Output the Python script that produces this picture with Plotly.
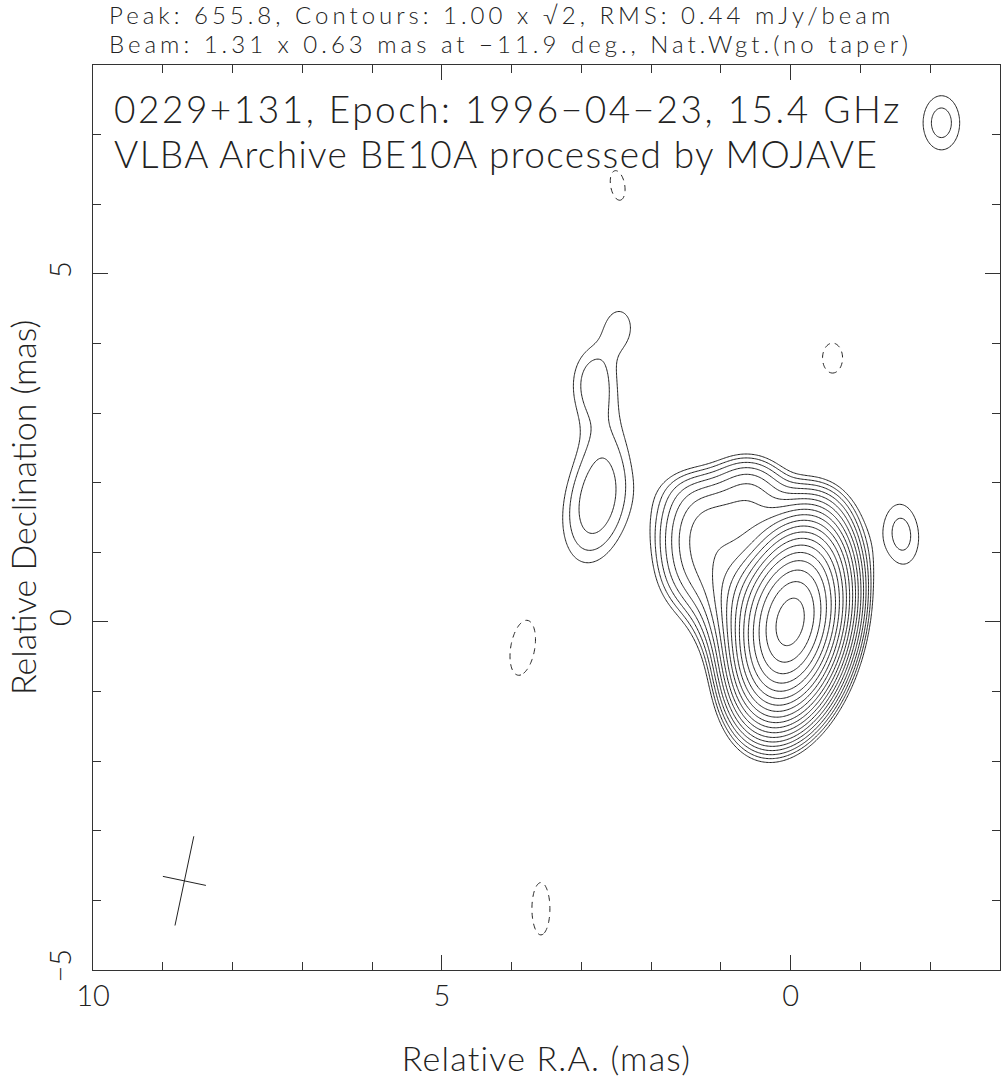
import numpy as np
import plotly.graph_objects as go

# Elliptical Gaussian components (restored with beam) describing the image
# RA offset (mas, east positive), Dec offset (mas), peak (mJy/beam), FWHM major/minor (mas), PA (deg)
comp_ra   = [0.00, 0.45, 0.55, 1.25, 1.30, 0.60, 1.40, -0.45,
             2.78, 2.70, 2.85, 2.45,
             -1.59, -2.16,
             3.84, 3.58, -0.60, 2.48]
comp_dec  = [0.00, 0.20, 1.50, 1.40, 0.80, 2.00, 1.85, 1.65,
             1.70, 2.85, 3.50, 4.25,
             1.26, 7.17,
             -0.37, -4.12, 3.79, 6.27]
comp_peak = [600.0, 30.0, 6.5, 6.0, 5.0, 2.5, 0.8, 0.8,
             2.5, 0.75, 1.4, 1.2,
             1.62, 1.64,
             -1.5, -1.4, -1.2, -1.15]
comp_maj  = [1.35, 1.20, 0.90, 0.90, 0.95, 0.70, 0.90, 0.80,
             1.50, 1.40, 1.00, 0.70,
             1.03, 0.92,
             1.05, 1.08, 0.84, 0.96]
comp_min  = [0.74, 0.90, 0.85, 0.85, 0.80, 0.60, 0.60, 0.60,
             0.80, 0.68, 0.62, 0.50,
             0.58, 0.62,
             0.45, 0.37, 0.56, 0.45]
comp_pa   = [-12.0, 20.0, 80.0, 0.0, 0.0, 80.0, 80.0, 60.0,
             -12.0, -5.0, -5.0, 0.0,
             5.0, 0.0,
             -10.0, 0.0, 0.0, 10.0]

map_peak = 655.8          # mJy/beam
base_level = 1.00         # mJy/beam, lowest contour
level_step = np.sqrt(2)   # contour ratio
beam_maj, beam_min, beam_pa = 1.31, 0.63, -11.9
beam_ra, beam_dec = 8.69, -3.72

x_major_ticks = [10, 5, 0]
y_major_ticks = [-5, 0, 5]

header_1 = "Peak: 655.8, Contours: 1.00 x \u221a2, RMS: 0.44 mJy/beam"
header_2 = "Beam: 1.31 x 0.63 mas at \u221211.9 deg., Nat.Wgt.(no taper)"
label_1 = "0229+131, Epoch: 1996\u221204\u221223, 15.4 GHz"
label_2 = "VLBA Archive BE10A processed by MOJAVE"
x_title = "Relative R.A. (mas)"
y_title = "Relative Declination (mas)"

# ---------------- build image ----------------
ra = np.linspace(-3.0, 10.0, 651)
dec = np.linspace(-5.0, 8.0, 651)
RA, DEC = np.meshgrid(ra, dec)
img = np.zeros_like(RA)
k = 4 * np.log(2)
for r0, d0, p, a, b, pa in zip(comp_ra, comp_dec, comp_peak, comp_maj, comp_min, comp_pa):
    t = np.deg2rad(pa)
    dx, dy = RA - r0, DEC - d0
    u = dx * np.sin(t) + dy * np.cos(t)
    v = dx * np.cos(t) - dy * np.sin(t)
    img += p * np.exp(-k * (u ** 2 / a ** 2 + v ** 2 / b ** 2))

n_pos = int(np.floor(np.log(map_peak / base_level) / np.log(level_step))) + 1
zlog = np.where(img > 0, np.log(np.clip(img, 1e-9, None) / base_level) / np.log(level_step), -30.0)

INK = "#222"
FONT = "Lato"
W = 300


def spaced(s, px):
    return '<span style="letter-spacing:%spx">%s</span>' % (px, s)


fig = go.Figure()
fig.add_trace(go.Contour(
    x=ra, y=dec, z=zlog.astype(np.float32),
    contours=dict(start=0, end=n_pos - 1, size=1, coloring="lines"),
    line=dict(color=INK, width=1, smoothing=1),
    colorscale=[[0, INK], [1, INK]], showscale=False, hoverinfo="skip"))
fig.add_trace(go.Contour(
    x=ra, y=dec, z=img.astype(np.float32),
    contours=dict(start=-base_level, end=-base_level, size=1, coloring="lines"),
    line=dict(color=INK, width=1, dash="6px,5px", smoothing=1),
    colorscale=[[0, INK], [1, INK]], showscale=False, hoverinfo="skip"))

# beam cross
t = np.deg2rad(beam_pa)
bx = [beam_ra + 0.5 * beam_maj * np.sin(t), beam_ra - 0.5 * beam_maj * np.sin(t), None,
      beam_ra + 0.5 * beam_min * np.cos(t), beam_ra - 0.5 * beam_min * np.cos(t)]
by = [beam_dec + 0.5 * beam_maj * np.cos(t), beam_dec - 0.5 * beam_maj * np.cos(t), None,
      beam_dec - 0.5 * beam_min * np.sin(t), beam_dec + 0.5 * beam_min * np.sin(t)]
fig.add_trace(go.Scatter(x=bx, y=by, mode="lines", line=dict(color=INK, width=1),
                         hoverinfo="skip", showlegend=False))

axis_common = dict(ticks="inside", ticklen=15, tickwidth=1, tickcolor="#333",
                   showline=True, linecolor="#333", linewidth=1, mirror="allticks",
                   showgrid=False, zeroline=False, automargin=False,
                   tickfont=dict(family=FONT, size=29, color=INK, weight=W),
                   minor=dict(ticks="inside", ticklen=8, dtick=1, tickcolor="#333", showgrid=False))

fig.update_layout(
    width=1001, height=1079,
    margin=dict(l=93, r=1, t=65, b=109),
    paper_bgcolor="white", plot_bgcolor="white", showlegend=False,
    xaxis=dict(range=[10, -3], tickvals=x_major_ticks, ticktext=[str(v) for v in x_major_ticks],
               title=dict(text=spaced(x_title, 1.2), standoff=36,
                          font=dict(family=FONT, size=34, color=INK, weight=W)),
               **axis_common),
    yaxis=dict(range=[-5, 8], tickvals=y_major_ticks,
               ticktext=[str(v).replace("-", "\u2212") for v in y_major_ticks],
               tickangle=-90, ticklabelstandoff=9,
               **axis_common),
)


def px_x(px):
    return (px - 93) / 907.0


def px_y(py):
    return (970 - py) / 905.0


fig.add_annotation(x=px_x(22), y=px_y(508), xref="paper", yref="paper", text=y_title,
                   showarrow=False, xanchor="center", yanchor="middle", textangle=-90,
                   font=dict(family=FONT, size=34, color=INK, weight=W))
fig.add_annotation(x=px_x(107), y=px_y(14.5), xref="paper", yref="paper", text=spaced(header_1, 4),
                   showarrow=False, xanchor="left", yanchor="middle",
                   font=dict(family=FONT, size=24, color=INK, weight=W))
fig.add_annotation(x=px_x(107), y=px_y(43.5), xref="paper", yref="paper", text=spaced(header_2, 4),
                   showarrow=False, xanchor="left", yanchor="middle",
                   font=dict(family=FONT, size=24, color=INK, weight=W))
fig.add_annotation(x=px_x(112), y=px_y(109), xref="paper", yref="paper", text=spaced(label_1, 2.5),
                   showarrow=False, xanchor="left", yanchor="middle",
                   font=dict(family=FONT, size=37, color=INK, weight=W))
fig.add_annotation(x=px_x(112), y=px_y(154), xref="paper", yref="paper", text=spaced(label_2, 1.4),
                   showarrow=False, xanchor="left", yanchor="middle",
                   font=dict(family=FONT, size=37, color=INK, weight=W))

fig.write_html("out.html", config={"displayModeBar": False},
               post_script="document.body.style.margin='0px';document.body.style.padding='0px';"
                           "document.documentElement.style.overflow='hidden';")
